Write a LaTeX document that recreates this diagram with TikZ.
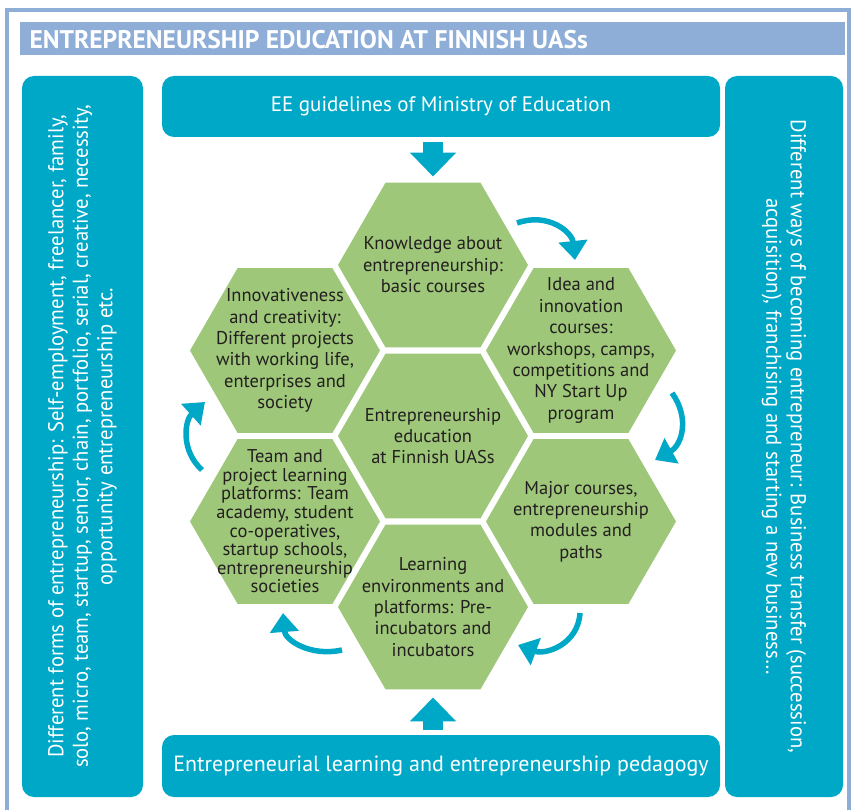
\documentclass[tikz,border=0pt]{standalone}
\usepackage{fontspec}
\setmainfont{PT Sans}
\newfontfamily\narrowfont[FakeStretch=0.96]{PT Sans}
\usetikzlibrary{shapes.geometric,arrows.meta,positioning}
\definecolor{framebl}{RGB}{142,174,216}
\definecolor{cyanbox}{RGB}{0,168,200}
\definecolor{hexgreen}{RGB}{158,199,121}
\definecolor{hexink}{RGB}{35,31,32}

\begin{document}
\begin{tikzpicture}[x=1pt,y=-1pt,
    panel/.style={fill=cyanbox,rounded corners=12pt,inner sep=0pt,text=white},
    sidetext/.style={align=center,font=\narrowfont\fontsize{21.5}{24.5}\selectfont},
    hexcell/.style={regular polygon,regular polygon sides=6,minimum size=190pt,inner sep=0pt,fill=hexgreen},
    hextext/.style={text=hexink,align=center,font=\fontsize{18.5}{21.4}\selectfont},
    bigarrow/.style={cyanbox,line width=20pt,-{Triangle[width=45pt,length=24pt]}},
    turnarrow/.style={cyanbox,line width=5.5pt,-{Triangle[width=28pt,length=19pt]}}]

    \useasboundingbox (0,0) rectangle (854,810);

    % frame and title
    \draw[framebl,line width=4pt] (7,10) rectangle (849,830);
    \node[fill=framebl,inner sep=0pt,minimum width=825pt,minimum height=33pt] (titlebar) at (432.5,38.5) {};
    \node[anchor=west,text=white,font=\bfseries\fontsize{25.5}{28}\selectfont] (title) at (26,40) {ENTREPRENEURSHIP EDUCATION AT FINNISH UASs};

    % boxes round the honeycomb
    \node[panel,font=\fontsize{21}{24}\selectfont,minimum width=558pt,minimum height=61pt] (guide) at (441,106.5) {EE guidelines of Ministry of Education};
    \node[panel,font=\fontsize{22}{25}\selectfont,minimum width=558pt,minimum height=62pt] (pedagogy) at (441,766) {Entrepreneurial learning and entrepreneurship pedagogy};
    \node[panel,sidetext,rotate=90,minimum width=721pt,minimum height=121pt] (forms) at (82.5,436.5)
        {Different forms of entrepreneurship: Self-employment, freelancer, family,\\
         solo, micro, team, startup, senior, chain, portfolio, serial, creative, necessity,\\
         opportunity entrepreneurship etc.};
    \node[panel,sidetext,rotate=-90,minimum width=721pt,minimum height=118pt] (ways) at (784,436.5)
        {Different ways of becoming entrepreneur: Business transfer (succession,\\
         acquisition), franchising and starting a new business\dots};

    % honeycomb
    \node[hexcell] (hub)   at (433,436)   {};
    \node[hexcell] (know)  at (433,265)   {};
    \node[hexcell] (idea)  at (581,350.5) {};
    \node[hexcell] (major) at (581,521.5) {};
    \node[hexcell] (learn) at (433,607)   {};
    \node[hexcell] (team)  at (285,521.5) {};
    \node[hexcell] (innov) at (285,350.5) {};

    \node[hextext] (hubtxt)   at (hub)   {Entrepreneurship\\education\\at Finnish UASs};
    \node[hextext] (knowtxt)  at (know)  {Knowledge about\\entrepreneurship:\\basic courses};
    \node[hextext] (ideatxt)  at (idea)  {Idea and\\innovation\\courses:\\workshops, camps,\\competitions and\\NY Start Up\\program};
    \node[hextext] (majortxt) at (major) {Major courses,\\entrepreneurship\\modules and\\paths};
    \node[hextext] (learntxt) at (learn) {Learning\\environments and\\platforms: Pre-\\incubators and\\incubators};
    \node[hextext,font=\fontsize{18.5}{18.6}\selectfont] (teamtxt) at (team)
        {Team and\\project learning\\platforms: Team\\academy, student\\co-operatives,\\startup schools,\\entrepreneurship\\societies};
    \node[hextext] (innovtxt) at (innov) {Innovativeness\\and creativity:\\Different projects\\with working life,\\enterprises and\\society};

    % arrows in and out
    \draw[bigarrow,shorten <=5pt,shorten >=6pt] (know.north |- guide.south) -- (know.north);
    \draw[bigarrow,shorten <=5pt,shorten >=8pt] (learn.south |- pedagogy.north) -- (learn.south);

    % turning arrows
    \coordinate (t1a) at (517,223); \coordinate (t1b) at (575,260);
    \coordinate (t2a) at (672,393); \coordinate (t2b) at (655,460);
    \coordinate (t3a) at (580,613); \coordinate (t3b) at (518,645);
    \coordinate (t4a) at (342,650); \coordinate (t4b) at (283,613);
    \coordinate (t5a) at (202,470); \coordinate (t5b) at (205,402);
    \draw[turnarrow] (t1a) .. controls (548,212) and (572,232) .. (t1b);
    \draw[turnarrow] (t2a) .. controls (690,418) and (682,445) .. (t2b);
    \draw[turnarrow] (t3a) .. controls (578,645) and (545,655) .. (t3b);
    \draw[turnarrow] (t4a) .. controls (310,657) and (285,640) .. (t4b);
    \draw[turnarrow] (t5a) .. controls (180,450) and (185,420) .. (t5b);
\end{tikzpicture}
\end{document}
